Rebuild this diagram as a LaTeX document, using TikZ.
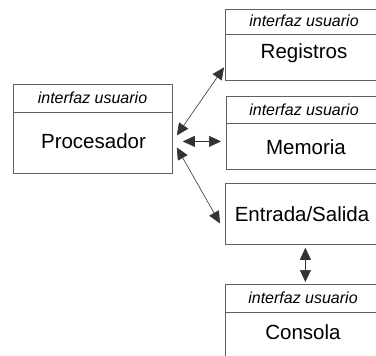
\documentclass[tikz,border=0pt]{standalone}
\usepackage{fontspec}
\setmainfont{Liberation Sans}
\usetikzlibrary{arrows.meta,calc}
\definecolor{boxgray}{HTML}{606060}
\begin{document}
\begin{tikzpicture}[x=1pt,y=-1pt,
  box/.style={draw=boxgray, line width=0.8pt, rectangle, inner sep=0pt, anchor=north west},
  divider/.style={draw=boxgray, line width=0.8pt},
  lbl/.style={font=\fontsize{20.5}{24}\selectfont, anchor=base, inner sep=0pt},
  ifc/.style={font=\fontsize{16}{19}\selectfont\itshape, anchor=base, inner sep=0pt},
  tip/.tip={Triangle[length=12pt,width=11pt]},
  link/.style={draw=black!80, line width=0.6pt, tip-tip}]
\useasboundingbox (0,0) rectangle (376,356);
\clip (0,0) rectangle (376,356);
\fill[white] (0,0) rectangle (376,356);

% boxes
\node[box, minimum width=159pt, minimum height=89pt] (proc) at (13,84) {};
\node[box, minimum width=160pt, minimum height=71pt] (reg) at (225,9) {};
\node[box, minimum width=159pt, minimum height=73pt] (mem) at (226,96) {};
\node[box, minimum width=160pt, minimum height=61pt] (es) at (225,183) {};
\node[box, minimum width=160pt, minimum height=90pt] (con) at (225,284) {};

% dividers
\draw[divider] ($(proc.north west)+(0,28)$) -- ($(proc.north east)+(0,28)$);
\draw[divider] ($(reg.north west)+(0,25)$) -- ($(reg.north east)+(0,25)$);
\draw[divider] ($(mem.north west)+(0,27)$) -- ($(mem.north east)+(0,27)$);
\draw[divider] ($(con.north west)+(0,28)$) -- ($(con.north east)+(0,28)$);

% texts
\node[ifc] (procI) at (92.5,103) {interfaz usuario};
\node[lbl] (procL) at (93.5,148) {Procesador};
\node[ifc] (regI) at (304,27) {interfaz usuario};
\node[lbl] (regL) at (304,59) {Registros};
\node[ifc] (memI) at (304,116) {interfaz usuario};
\node[lbl] (memL) at (306,154) {Memoria};
\node[lbl] (esL) at (302,222) {Entrada/Salida};
\node[ifc] (conI) at (303,304) {interfaz usuario};
\node[lbl] (conL) at (303,339) {Consola};

% connectors
\coordinate (p1) at ($(proc.east)+(4,6.5)$);
\coordinate (p2) at ($(proc.east)+(10,12.5)$);
\coordinate (p3) at ($(proc.east)+(4,18.5)$);
\coordinate (r1) at ($(reg.west)+(-1,22.5)$);
\coordinate (m1) at ($(mem.west)+(-5,8.5)$);
\coordinate (e1) at ($(es.west)+(-5,9.5)$);
\coordinate (e2) at ($(es.south)+(0,3)$);
\coordinate (c1) at ($(con.north)+(0,-2)$);
\draw[link] (p1) -- (r1);
\draw[link] (p2) -- (m1);
\draw[link] (p3) -- (e1);
\draw[link] (e2) -- (c1);
\end{tikzpicture}
\end{document}
